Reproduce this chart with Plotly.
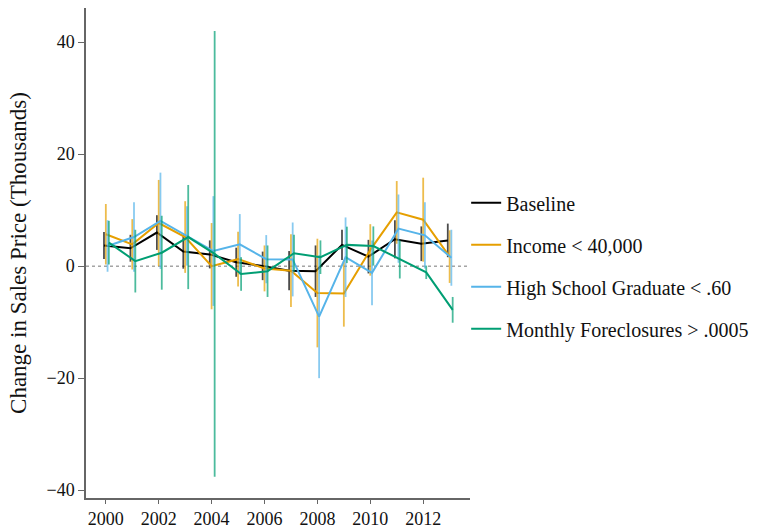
import plotly.graph_objects as go

# Annual change in sales price (thousands) with 95% interval half-widths
years = list(range(2000, 2014))

baseline = [3.7, 3.2, 6.0, 2.6, 2.1, 0.7, 0.05, -0.8, -0.9, 3.8, 1.7, 4.8, 4.0, 4.6]
baseline_ci = [2.4, 2.4, 3.1, 3.05, 2.5, 2.6, 2.55, 3.5, 4.6, 2.7, 3.0, 3.4, 3.1, 3.0]

income = [5.7, 3.9, 7.7, 5.2, 0.0, 1.25, -0.4, -0.8, -4.8, -4.9, 2.9, 9.6, 8.3, 1.7]
income_ci = [5.4, 4.5, 7.7, 6.4, 7.7, 4.9, 4.1, 6.5, 9.7, 5.9, 4.6, 5.6, 7.5, 4.7]

hs_grad = [3.6, 5.2, 8.1, 5.4, 2.7, 3.9, 1.25, 1.2, -9.0, 1.6, -1.2, 6.7, 5.5, 1.5]
hs_grad_ci = [4.6, 6.2, 8.6, 5.3, 9.8, 5.4, 4.3, 6.6, 11.0, 7.1, 5.8, 6.1, 5.9, 5.0]

foreclosures = [4.2, 0.9, 2.4, 5.2, 2.2, -1.4, -0.9, 2.3, 1.6, 3.8, 3.6, 1.2, -1.1, -7.8]
foreclosures_ci = [3.9, 5.6, 6.6, 9.3, 39.8, 3.0, 4.6, 3.3, 3.0, 3.25, 3.5, 3.4, 1.2, 2.3]

series = [
    ("Baseline", baseline, baseline_ci, "#000000", "rgba(0,0,0,0.7)", -0.07),
    ("Income < 40,000", income, income_ci, "#E69F00", "rgba(230,159,0,0.7)", 0.0),
    ("High School Graduate < .60", hs_grad, hs_grad_ci, "#56B4E9", "rgba(86,180,233,0.7)", 0.065),
    ("Monthly Foreclosures > .0005", foreclosures, foreclosures_ci, "#009E73", "rgba(0,158,115,0.7)", 0.115),
]

SERIF = "Liberation Serif, Times New Roman, serif"

fig = go.Figure()
for i, (name, vals, ci, color, ci_color, dx) in enumerate(series):
    fig.add_trace(go.Scatter(
        x=[y + dx for y in years],
        y=vals,
        mode="lines",
        name=name,
        legendgroup=f"g{i}",
        line=dict(color=color, width=2),
        error_y=dict(type="data", array=ci, visible=True,
                     color=ci_color, thickness=1.8, width=0),
    ))

# dotted reference line at zero
fig.add_shape(type="line", xref="paper", x0=0, x1=1, yref="y", y0=0, y1=0,
              line=dict(color="#777777", width=1, dash="dot"), layer="below")

axis_common = dict(
    showline=True, linecolor="#666666", linewidth=1.5,
    ticks="outside", tickcolor="#666666", tickwidth=1,
    showgrid=False, zeroline=False, automargin=False,
    tickfont=dict(family=SERIF, size=18, color="#111111"),
)

fig.update_layout(
    width=762, height=529,
    margin=dict(l=86, r=290, t=8, b=31),
    paper_bgcolor="white", plot_bgcolor="white",
    showlegend=True,
    legend=dict(
        x=0.99, xanchor="left", y=0.474, yanchor="middle",
        traceorder="grouped", tracegroupgap=13,
        font=dict(family=SERIF, size=20, color="#111111"),
        bgcolor="rgba(0,0,0,0)", itemwidth=30,
    ),
    xaxis=dict(range=[1999.25, 2013.77], tickvals=list(range(2000, 2013, 2)),
               ticklen=4, **axis_common),
    yaxis=dict(range=[-41.4, 46.1], tickvals=[-40, -20, 0, 20, 40],
               ticklen=6,
               title=dict(text="Change in Sales Price (Thousands)",
                          font=dict(family=SERIF, size=23, color="#111111"),
                          standoff=13),
               **axis_common),
)

fig.write_html("out.html")
